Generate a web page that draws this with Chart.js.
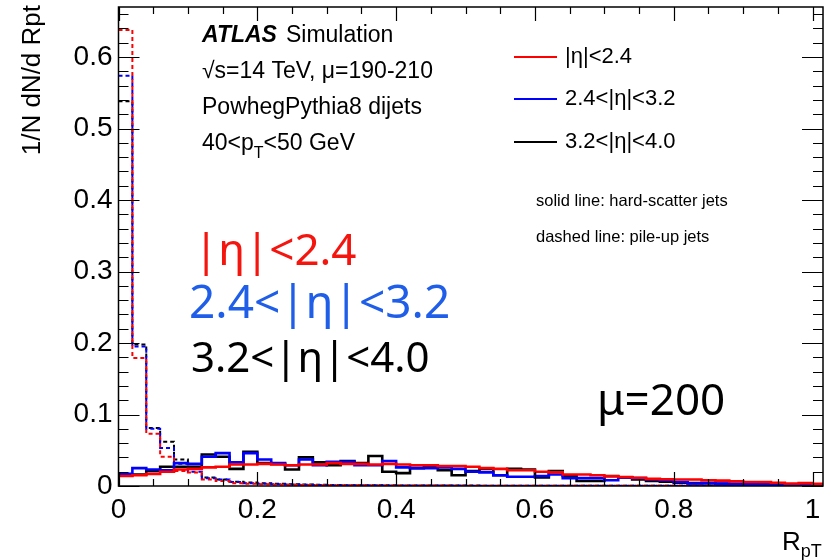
<!DOCTYPE html>
<html>
<head>
<meta charset="utf-8">
<title>RpT pile-up vs hard-scatter</title>
<script src="https://cdn.jsdelivr.net/npm/chart.js@4/dist/chart.umd.min.js"></script>
<style>
  html, body { margin: 0; padding: 0; background: #fff; }
  #wrap { width: 831px; height: 560px; }
</style>
</head>
<body>
<div id="wrap"><canvas id="rptChart" width="831" height="560"></canvas></div>
<script>
// R_pT histograms, 0.02 wide bins starting at 0 (last bin runs past the frame)
const BIN_WIDTH = 0.02;
const xTickValues = [0, 0.2, 0.4, 0.6, 0.8, 1];
const yTickValues = [0, 0.1, 0.2, 0.3, 0.4, 0.5, 0.6];

// hard-scatter jets (solid)
const hsEta24 = [0.014, 0.015, 0.017, 0.020, 0.023, 0.024, 0.026, 0.027, 0.030, 0.030,
                 0.031, 0.030, 0.029, 0.030, 0.030, 0.032, 0.031, 0.031, 0.030, 0.031,
                 0.030, 0.029, 0.029, 0.028, 0.028, 0.027, 0.025, 0.024, 0.022, 0.022,
                 0.020, 0.019, 0.016, 0.016, 0.015, 0.0135, 0.0125, 0.0115, 0.010, 0.0095,
                 0.009, 0.009, 0.008, 0.0075, 0.0065, 0.0055, 0.0055, 0.0045, 0.0035, 0.004, 0.003];
const hsEta32 = [0.017, 0.025, 0.023, 0.022, 0.032, 0.031, 0.041, 0.046, 0.033, 0.046,
                 0.037, 0.032, 0.029, 0.037, 0.029, 0.034, 0.034, 0.029, 0.029, 0.035,
                 0.026, 0.025, 0.025, 0.026, 0.024, 0.020, 0.019, 0.015, 0.013, 0.013,
                 0.014, 0.016, 0.011, 0.011, 0.011, 0.008, 0.012, 0.011, 0.009, 0.008,
                 0.0056, 0.0035, 0.004, 0.0033, 0.0025, 0.0025, 0.002, 0.002, 0.0015, 0.002, 0.0015];
const hsEta40 = [0.015, 0.016, 0.021, 0.027, 0.027, 0.027, 0.044, 0.041, 0.024, 0.048,
                 0.032, 0.031, 0.023, 0.040, 0.033, 0.029, 0.035, 0.032, 0.042, 0.020,
                 0.018, 0.025, 0.028, 0.022, 0.015, 0.021, 0.024, 0.015, 0.024, 0.023,
                 0.012, 0.021, 0.014, 0.007, 0.007, 0.014, 0.012, 0.009, 0.007, 0.006,
                 0.0045, 0.004, 0.004, 0.003, 0.003, 0.003, 0.002, 0.002, 0.0015, 0.002, 0.001];

// pile-up jets (dashed)
const puEta24 = [0.638, 0.179, 0.073, 0.041, 0.021, 0.019, 0.009, 0.007, 0.004, 0.003,
                 0.0025, 0.002, 0.0018, 0.0015, 0.0012, 0.001, 0.001, 0.001, 0.0008, 0.0008,
                 0.0007, 0.0007, 0.0006, 0.0006, 0.0005, 0.0005, 0.0005, 0.0004, 0.0004, 0.0004,
                 0.0004, 0.0003, 0.0003, 0.0003, 0.0003, 0.0003, 0.0002, 0.0002, 0.0002, 0.0002,
                 0.0002, 0.0002, 0.0002, 0.0001, 0.0001, 0.0001, 0.0001, 0.0001, 0.0001, 0.0001, 0.0001];
const puEta32 = [0.574, 0.195, 0.080, 0.053, 0.031, 0.020, 0.011, 0.009, 0.0055, 0.004,
                 0.003, 0.0025, 0.002, 0.0018, 0.0015, 0.0012, 0.001, 0.001, 0.0009, 0.0008,
                 0.0008, 0.0007, 0.0007, 0.0006, 0.0006, 0.0005, 0.0005, 0.0005, 0.0004, 0.0004,
                 0.0004, 0.0004, 0.0003, 0.0003, 0.0003, 0.0003, 0.0003, 0.0002, 0.0002, 0.0002,
                 0.0002, 0.0002, 0.0002, 0.0002, 0.0001, 0.0001, 0.0001, 0.0001, 0.0001, 0.0001, 0.0001];
const puEta40 = [0.538, 0.198, 0.081, 0.062, 0.037, 0.026, 0.012, 0.009, 0.006, 0.005,
                 0.004, 0.003, 0.0025, 0.002, 0.0018, 0.0015, 0.0012, 0.001, 0.001, 0.0009,
                 0.0008, 0.0008, 0.0007, 0.0007, 0.0006, 0.0006, 0.0005, 0.0005, 0.0005, 0.0004,
                 0.0004, 0.0004, 0.0004, 0.0003, 0.0003, 0.0003, 0.0003, 0.0002, 0.0002, 0.0002,
                 0.0002, 0.0002, 0.0002, 0.0002, 0.0001, 0.0001, 0.0001, 0.0001, 0.0001, 0.0001, 0.0001];

const RED = '#ff0000';
const BLUE = '#0000ff';
const BLACK = '#000000';

// bin contents -> step outline points at the low edge of every bin
function toSteps(values) {
    const pts = values.map((v, i) => ({ x: i * BIN_WIDTH, y: v }));
    pts.push({ x: values.length * BIN_WIDTH, y: values[values.length - 1] });
    return pts;
}

function histDataset(label, values, color, dashed) {
    return {
        label: label,
        data: toSteps(values),
        borderColor: color,
        borderWidth: dashed ? 2 : 2.6,
        borderDash: dashed ? [4, 3] : [],
        stepped: 'before',
        pointRadius: 0,
        fill: false,
        tension: 0
    };
}

const tickFont = { family: '"Liberation Sans", Arial, sans-serif', size: 28 };

// no extra room for half-labels, the frame sits where the layout padding says
function noLabelPadding(s) {
    s.paddingTop = 0;
    s.paddingBottom = 0;
    s.paddingLeft = 0;
    s.paddingRight = 0;
}

// ROOT-style frame: box plus ticks pointing inwards on all four sides
const rootFrame = {
    id: 'rootFrame',
    afterDatasetsDraw(chart) {
        const { ctx, chartArea: a, scales: { x, y } } = chart;
        ctx.save();
        ctx.strokeStyle = '#000';
        ctx.lineWidth = 1.5;
        ctx.strokeRect(a.left, a.top, a.right - a.left, a.bottom - a.top);
        ctx.lineWidth = 1.2;
        ctx.beginPath();
        for (let i = 0; i <= 20; i++) {
            const px = Math.round(x.getPixelForValue(i * 0.05)) + 0.5;
            const len = i % 4 === 0 ? 14 : 7;
            ctx.moveTo(px, a.bottom); ctx.lineTo(px, a.bottom - len);
            ctx.moveTo(px, a.top); ctx.lineTo(px, a.top + len);
        }
        for (let i = 0; i <= 33; i++) {
            const py = Math.round(y.getPixelForValue(i * 0.02)) + 0.5;
            const len = i % 5 === 0 ? 21 : 10;
            ctx.moveTo(a.left, py); ctx.lineTo(a.left + len, py);
            ctx.moveTo(a.right, py); ctx.lineTo(a.right - len, py);
        }
        ctx.stroke();
        ctx.restore();
    }
};

// texts, legend and axis titles
const labels = {
    id: 'labels',
    afterDraw(chart) {
        const ctx = chart.ctx;
        const sans = '"Liberation Sans", Arial, sans-serif';
        const big = '"Noto Sans", "Open Sans", sans-serif';
        ctx.save();
        ctx.textBaseline = 'alphabetic';
        ctx.textAlign = 'left';
        ctx.fillStyle = '#000';

        // ATLAS block
        ctx.font = 'italic bold 23px ' + sans;
        ctx.fillText('ATLAS', 202, 42);
        let w = ctx.measureText('ATLAS').width;
        ctx.font = '23px ' + sans;
        ctx.fillText('Simulation', 202 + w + 9, 42);
        ctx.fillText('\u221As=14 TeV, \u03BC=190-210', 202, 78);
        ctx.fillText('PowhegPythia8 dijets', 202, 114);
        ctx.fillText('40<p', 202, 150);
        w = ctx.measureText('40<p').width;
        ctx.font = '16px ' + sans;
        ctx.fillText('T', 202 + w, 158);
        const w2 = ctx.measureText('T').width;
        ctx.font = '23px ' + sans;
        ctx.fillText('<50 GeV', 202 + w + w2, 150);

        // legend
        const legend = [['|\u03B7|<2.4', RED, 57], ['2.4<|\u03B7|<3.2', BLUE, 99], ['3.2<|\u03B7|<4.0', BLACK, 142]];
        ctx.lineWidth = 2.2;
        legend.forEach(([text, color, ly]) => {
            ctx.strokeStyle = color;
            ctx.beginPath();
            ctx.moveTo(514, ly); ctx.lineTo(557, ly);
            ctx.stroke();
            ctx.fillStyle = '#000';
            ctx.font = '22px ' + sans;
            ctx.textBaseline = 'middle';
            ctx.fillText(text, 565, ly);
        });
        ctx.font = '16.5px ' + sans;
        ctx.fillText('solid line: hard-scatter jets', 536, 201);
        ctx.fillText('dashed line: pile-up jets', 536, 237);

        // big region labels
        ctx.textBaseline = 'alphabetic';
        ctx.fillStyle = '#f5150f';
        ctx.font = '44px ' + big;
        ctx.fillText('|\u03B7|<2.4', 194, 265);
        ctx.fillStyle = '#1f5ee8';
        ctx.font = '46px ' + big;
        ctx.fillText('2.4<|\u03B7|<3.2', 189, 318);
        ctx.fillStyle = '#000';
        ctx.font = '42px ' + big;
        ctx.fillText('3.2<|\u03B7|<4.0', 191, 372);
        ctx.font = '44px ' + big;
        ctx.fillText('\u03BC=200', 597, 415);

        // axis titles
        ctx.font = '26px ' + sans;
        ctx.fillText('R', 782, 550);
        w = ctx.measureText('R').width;
        ctx.font = '18px ' + sans;
        ctx.fillText('pT', 782 + w, 557);

        ctx.save();
        ctx.translate(40, 5);
        ctx.rotate(-Math.PI / 2);
        ctx.textAlign = 'right';
        ctx.font = '26px ' + sans;
        ctx.fillText('1/N dN/d Rpt', 0, 0);
        ctx.restore();

        ctx.restore();
    }
};

new Chart(document.getElementById('rptChart'), {
    type: 'line',
    data: {
        datasets: [
            histDataset('|η|<2.4 hard-scatter', hsEta24, RED, false),
            histDataset('2.4<|η|<3.2 hard-scatter', hsEta32, BLUE, false),
            histDataset('3.2<|η|<4.0 hard-scatter', hsEta40, BLACK, false),
            histDataset('|η|<2.4 pile-up', puEta24, RED, true),
            histDataset('2.4<|η|<3.2 pile-up', puEta32, BLUE, true),
            histDataset('3.2<|η|<4.0 pile-up', puEta40, BLACK, true)
        ]
    },
    options: {
        responsive: false,
        animation: false,
        events: [],
        layout: { padding: { top: 7, right: 8, left: 0, bottom: 0 } },
        plugins: {
            legend: { display: false },
            tooltip: { enabled: false }
        },
        scales: {
            x: {
                type: 'linear',
                min: 0,
                max: 1.015,
                grid: { display: false, drawTicks: false },
                border: { display: false },
                afterBuildTicks: s => { s.ticks = xTickValues.map(v => ({ value: v })); },
                afterFit: s => { s.height = 74; noLabelPadding(s); },
                ticks: {
                    autoSkip: false,
                    maxRotation: 0,
                    padding: 7,
                    color: '#000',
                    font: tickFont,
                    callback: v => (v === 0 || v === 1) ? String(v) : v.toFixed(1)
                }
            },
            y: {
                type: 'linear',
                min: 0,
                max: 0.67,
                grid: { display: false, drawTicks: false },
                border: { display: false },
                afterBuildTicks: s => { s.ticks = yTickValues.map(v => ({ value: v })); },
                afterFit: s => { s.width = 118.5; noLabelPadding(s); },
                ticks: {
                    autoSkip: false,
                    padding: 6,
                    color: '#000',
                    font: tickFont,
                    callback: v => v === 0 ? '0' : v.toFixed(1)
                }
            }
        }
    },
    plugins: [rootFrame, labels]
});
</script>
</body>
</html>
